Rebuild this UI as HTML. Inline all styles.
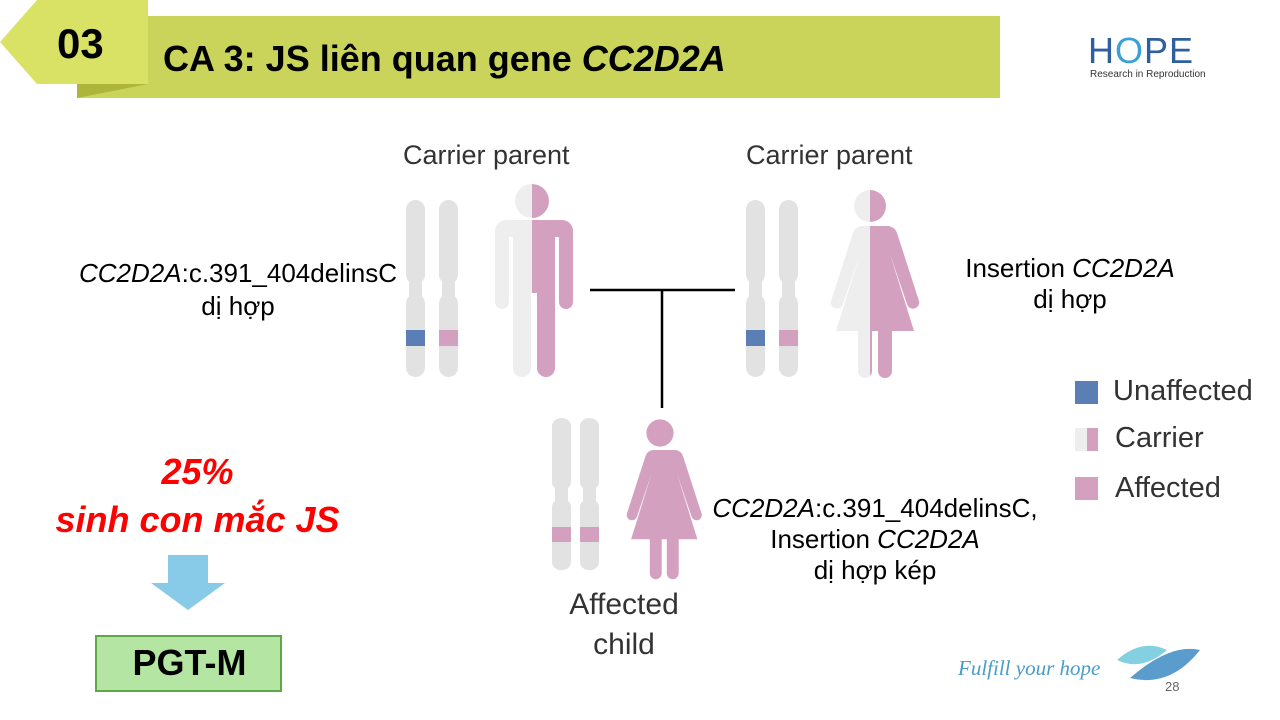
<!DOCTYPE html>
<html><head><meta charset="utf-8"><style>
body{margin:0;width:1280px;height:720px;overflow:hidden;background:#fff;font-family:"Liberation Sans",sans-serif}
.t{position:absolute;white-space:nowrap}
</style></head><body>
<svg width="1280" height="720" style="position:absolute;left:0;top:0">
<rect x="77" y="16" width="923" height="82" fill="#cbd45a"/>
<polygon points="77,84 148,84 77,98" fill="#adb53a"/>
<polygon points="0,42 37,0 148,0 148,84 37,84" fill="#d9e264"/>
<defs>
<g id="chr">
<rect x="0" y="0" width="19" height="84" rx="9.5" fill="#e2e2e2"/>
<rect x="0" y="94" width="19" height="83" rx="9.5" fill="#e2e2e2"/>
<rect x="3" y="80" width="13" height="18" fill="#e2e2e2"/>
</g>
<g id="man">
<circle cx="0" cy="0" r="17"/>
<path d="M-30,19 h60 a11,11 0 0 1 11,11 v71 a7,7 0 0 1 -14,0 v-65 h-4 v131 a9,9 0 0 1 -18,0 v-75 h-6 v75 a9,9 0 0 1 -18,0 v-131 h-4 v65 a7,7 0 0 1 -14,0 v-71 a11,11 0 0 1 11,-11z"/>
</g>
<g id="woman">
<circle cx="0" cy="0" r="16"/>
<path d="M-18,20 h36 a10,10 0 0 1 9,7 l22,68 a6,6 0 0 1 -12,3 l-17,-50 l24,77 h-22 v40 a7,7 0 0 1 -14,0 v-40 h-6 v40 a7,7 0 0 1 -14,0 v-40 h-22 l24,-77 l-17,50 a6,6 0 0 1 -12,-3 l22,-68 a10,10 0 0 1 9,-7z"/>
</g>
<clipPath id="L"><rect x="-100" y="-100" width="100" height="400"/></clipPath>
<clipPath id="R"><rect x="0" y="-100" width="100" height="400"/></clipPath>
</defs>
<use href="#chr" x="406" y="200"/><use href="#chr" x="439" y="200"/>
<rect x="406" y="330" width="19" height="16" fill="#5b7fb5"/><rect x="439" y="330" width="19" height="16" fill="#d4a0bf"/>
<g transform="translate(532,201)"><use href="#man" fill="#eeeeee" clip-path="url(#L)"/><use href="#man" fill="#d4a0bf" clip-path="url(#R)"/></g>
<use href="#chr" x="746" y="200"/><use href="#chr" x="779" y="200"/>
<rect x="746" y="330" width="19" height="16" fill="#5b7fb5"/><rect x="779" y="330" width="19" height="16" fill="#d4a0bf"/>
<g transform="translate(870,206)"><use href="#woman" fill="#eeeeee" clip-path="url(#L)"/><use href="#woman" fill="#d4a0bf" clip-path="url(#R)"/></g>
<g transform="translate(552,418) scale(1,0.86)"><use href="#chr" x="0" y="0"/><use href="#chr" x="28" y="0"/></g>
<rect x="552" y="527" width="19" height="15" fill="#d4a0bf"/><rect x="580" y="527" width="19" height="15" fill="#d4a0bf"/>
<g transform="translate(660,433) scale(0.85)"><use href="#woman" fill="#d4a0bf"/></g>
<line x1="590" y1="290" x2="735" y2="290" stroke="#000" stroke-width="2.5"/>
<line x1="662" y1="290" x2="662" y2="408" stroke="#000" stroke-width="2.5"/>
<rect x="1075" y="381" width="23" height="23" fill="#5b7fb5"/>
<rect x="1075" y="428" width="12" height="23" fill="#eeeeee"/><rect x="1087" y="428" width="11" height="23" fill="#d4a0bf"/>
<rect x="1075" y="477" width="23" height="23" fill="#d4a0bf"/>
<polygon points="168,555 208,555 208,583 225,583 188,610 151,583 168,583" fill="#87cbe8"/>
<rect x="96" y="636" width="185" height="55" fill="#b5e5a2" stroke="#5fa84a" stroke-width="2"/>
<path d="M1117,660 q25,-22 50,-10 q-25,22 -50,10z" fill="#84d0e0"/>
<path d="M1130,678 q40,-35 70,-28 q-30,38 -70,28z" fill="#5a9ccc"/>
</svg>
<div class="t" style="left:57px;top:20px;font-size:42px;font-weight:bold">03</div>
<div class="t" style="left:163px;top:38px;font-size:36px;font-weight:bold">CA 3: JS liên quan gene <i>CC2D2A</i></div>
<div class="t" style="left:1088px;top:30px;font-size:36px;color:#2f5f9e;letter-spacing:1px">H<span style="color:#3aa0d8">O</span>PE</div>
<div class="t" style="left:1090px;top:69px;font-size:10px;color:#333">Research in Reproduction</div>
<div class="t" style="left:403px;top:140px;font-size:27px;color:#333">Carrier parent</div>
<div class="t" style="left:746px;top:140px;font-size:27px;color:#333">Carrier parent</div>
<div class="t" style="left:60px;top:257px;font-size:26px;text-align:center;width:356px;line-height:33px"><i>CC2D2A</i>:c.391_404delinsC<br>dị hợp</div>
<div class="t" style="left:940px;top:253px;font-size:26px;text-align:center;width:260px;line-height:31px">Insertion <i>CC2D2A</i><br>dị hợp</div>
<div class="t" style="left:1113px;top:375px;font-size:29px;color:#333">Unaffected</div>
<div class="t" style="left:1115px;top:422px;font-size:29px;color:#333">Carrier</div>
<div class="t" style="left:1115px;top:472px;font-size:29px;color:#333">Affected</div>
<div class="t" style="left:690px;top:493px;font-size:26px;text-align:center;width:370px;line-height:31px"><i>CC2D2A</i>:c.391_404delinsC,<br>Insertion <i>CC2D2A</i><br>dị hợp kép</div>
<div class="t" style="left:530px;top:585px;font-size:30px;color:#333;text-align:center;width:188px;line-height:40px">Affected<br>child</div>
<div class="t" style="left:20px;top:448px;font-size:36px;color:#f00;font-weight:bold;font-style:italic;text-align:center;width:355px;line-height:48px">25%<br>sinh con mắc JS</div>
<div class="t" style="left:96px;top:642px;font-size:36px;font-weight:bold;text-align:center;width:187px">PGT-M</div>
<div class="t" style="left:958px;top:656px;font-size:21px;color:#4a9cc8;font-style:italic;font-family:'Liberation Serif',serif">Fulfill your hope</div>
<div class="t" style="left:1165px;top:679px;font-size:13px;color:#666">28</div>
</body></html>
